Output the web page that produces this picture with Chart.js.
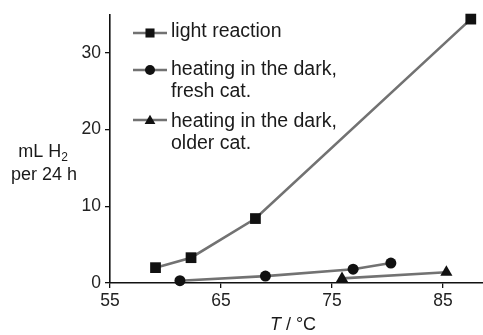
<!DOCTYPE html>
<html>
<head>
<meta charset="utf-8">
<script src="https://cdn.jsdelivr.net/npm/chart.js@4"></script>
<style>
html,body{margin:0;padding:0;background:#fff;}
#wrap{width:483px;height:335px;position:relative;}
</style>
</head>
<body>
<div id="wrap"><canvas id="c" width="483" height="335"></canvas></div>
<script>
// Data
const lightX = [59.1, 62.3, 68.1, 87.5];
const lightY = [2.0, 3.3, 8.4, 34.4];
const freshX = [61.3, 69.0, 76.9, 80.3];
const freshY = [0.3, 0.9, 1.8, 2.6];
const olderX = [75.9, 85.3];
const olderY = [0.6, 1.4];
const xTicks = [55, 65, 75, 85];
const yTicks = [0, 10, 20, 30];
const seriesLabels = [
  ["light reaction"],
  ["heating in the dark,", "fresh cat."],
  ["heating in the dark,", "older cat."]
];
const yTitle = ["mL H", "2", "per 24 h"];
const xTitle = ["T", " / °C"];

const FONT = "'Liberation Sans', Arial, Helvetica, sans-serif";
const LINE = "#727272";
const MARK = "#111111";

function pts(xs, ys){ return xs.map((x,i)=>({x:x, y:ys[i]})); }

const styles = [
  {pointStyle:'rect', radius:7.6},
  {pointStyle:'circle', radius:5.5},
  {pointStyle:'triangle', radius:7}
];

const datasets = [
  {label: seriesLabels[0].join(' '), data: pts(lightX, lightY)},
  {label: seriesLabels[1].join(' '), data: pts(freshX, freshY)},
  {label: seriesLabels[2].join(' '), data: pts(olderX, olderY)}
].map((d,i)=>Object.assign(d,{
  borderColor: LINE, borderWidth: 2.6, backgroundColor: MARK,
  pointBackgroundColor: MARK, pointBorderColor: MARK, pointBorderWidth: 0,
  pointStyle: styles[i].pointStyle, pointRadius: styles[i].radius,
  pointHoverRadius: styles[i].radius, showLine: true, tension: 0, clip: false
}));

const customPlugin = {
  id: 'custom',
  afterDraw(chart){
    const ctx = chart.ctx;
    ctx.save();
    // Legend
    const markY = [33, 70, 120];
    const textY = [[32], [69.5, 92], [121.5, 143.5]];
    ctx.font = "19.5px " + FONT;
    ctx.textBaseline = 'middle';
    ctx.textAlign = 'left';
    for (let i = 0; i < 3; i++) {
      const y = markY[i];
      ctx.strokeStyle = LINE; ctx.lineWidth = 2.6;
      ctx.beginPath(); ctx.moveTo(133, y); ctx.lineTo(167, y); ctx.stroke();
      ctx.fillStyle = MARK; ctx.strokeStyle = MARK;
      const r = i === 0 ? 6.4 : (i === 1 ? 5 : 6.2);
      Chart.helpers.drawPoint(ctx, {pointStyle: styles[i].pointStyle, radius: r, borderWidth: 0}, 150, i===2 ? y+1 : y);
      ctx.fillStyle = '#1a1a1a';
      seriesLabels[i].forEach((t, k) => ctx.fillText(t, 171, textY[i][k]));
    }
    // Y title
    ctx.fillStyle = '#1a1a1a';
    ctx.font = "18px " + FONT;
    ctx.textAlign = 'left';
    const w1 = ctx.measureText(yTitle[0]).width;
    ctx.font = "12px " + FONT;
    const w2 = ctx.measureText(yTitle[1]).width;
    const total = w1 + w2;
    const sx = 43 - total/2;
    ctx.font = "18px " + FONT;
    ctx.fillText(yTitle[0], sx, 152);
    ctx.font = "12px " + FONT;
    ctx.fillText(yTitle[1], sx + w1, 158);
    ctx.font = "18px " + FONT;
    ctx.textAlign = 'center';
    ctx.fillText(yTitle[2], 44, 175);
    // X title
    ctx.textAlign = 'left';
    ctx.font = "italic 18px " + FONT;
    const a = ctx.measureText(xTitle[0]).width;
    ctx.font = "18px " + FONT;
    const b = ctx.measureText(xTitle[1]).width;
    const st = 293 - (a + b)/2;
    ctx.font = "italic 18px " + FONT;
    ctx.fillText(xTitle[0], st, 325);
    ctx.font = "18px " + FONT;
    ctx.fillText(xTitle[1], st + a, 325);
    ctx.restore();
  }
};

new Chart(document.getElementById('c'), {
  type: 'scatter',
  data: {datasets},
  plugins: [customPlugin],
  options: {
    responsive: false,
    animation: false,
    devicePixelRatio: 1,
    layout: {autoPadding: false, padding: {top: 13, right: 0, left: 0, bottom: 0}},
    plugins: {legend: {display: false}, tooltip: {enabled: false}},
    scales: {
      x: {
        type: 'linear', min: 55, max: 88.6,
        afterBuildTicks: s => { s.ticks = xTicks.map(v => ({value: v})); },
        afterFit: s => { s.height = 52; },
        grid: {display: true, drawOnChartArea: false, drawTicks: true, tickLength: 5, color: '#111', lineWidth: 1.3},
        border: {display: true, color: '#111', width: 1.6},
        ticks: {color: '#222', font: {family: FONT, size: 17.5}, padding: 3, maxRotation: 0}
      },
      y: {
        type: 'linear', min: 0, max: 35,
        afterBuildTicks: s => { s.ticks = yTicks.map(v => ({value: v})); },
        afterFit: s => { s.width = 110; },
        grid: {display: true, drawOnChartArea: false, drawTicks: true, tickLength: 5, color: '#111', lineWidth: 1.3},
        border: {display: true, color: '#111', width: 1.6},
        ticks: {color: '#222', font: {family: FONT, size: 17.5}, padding: 4}
      }
    }
  }
});
</script>
</body>
</html>
